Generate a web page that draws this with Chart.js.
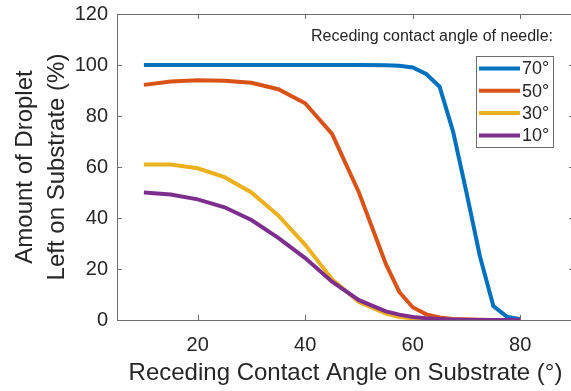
<!DOCTYPE html>
<html>
<head>
<meta charset="utf-8">
<script src="https://cdn.jsdelivr.net/npm/chart.js@4.4.0/dist/chart.umd.min.js"></script>
<style>
  html, body { margin: 0; padding: 0; background: #fff; overflow: hidden; }
  #wrap { width: 576px; height: 391px; }
</style>
</head>
<body>
<div id="wrap"><canvas id="chart" width="576" height="391"></canvas></div>
<script>
// receding contact angle on substrate (deg)
const angles = [10, 15, 20, 25, 30, 35, 40, 45, 50, 55, 57.5, 60, 62.5, 65, 67.5, 70, 72.5, 75, 77.5, 80];

// amount of droplet left on substrate (%), one array per needle angle
const needle70 = [100, 100, 100, 100, 100, 100, 100, 100, 100, 99.9, 99.7, 99, 96.5, 91.5, 74, 50, 25, 5.5, 1.3, 0.3];
const needle50 = [92.2, 93.5, 94, 93.8, 93, 90.5, 85, 73, 50, 22, 11, 5, 2.2, 1, 0.4, 0.2, 0.1, 0, 0, 0];
const needle30 = [61, 61, 59.5, 56, 50, 41, 29.5, 16, 7, 2.5, 1.2, 0.6, 0.3, 0.2, 0.1, 0.1, 0, 0, 0, 0];
const needle10 = [50, 49.2, 47.3, 44.2, 39.2, 32.2, 24.3, 15, 7.8, 3.4, 2.1, 1.2, 0.7, 0.4, 0.2, 0.1, 0, 0, 0, 0];

const seriesLabels = ["70°", "50°", "30°", "10°"];
const xTicks = [20, 40, 60, 80];
const yTicks = [0, 20, 40, 60, 80, 100, 120];

// matlab default colours
const colors = ["#0072BD", "#D95319", "#EDB120", "#7E2F8E"];
const textColor = "#262626";
const axisColor = "#6e6e6e";
const fontFamily = "'Liberation Sans', Arial, sans-serif";

Chart.defaults.font.family = fontFamily;
Chart.defaults.color = textColor;

function toPoints(values) {
  return angles.map((a, i) => ({ x: a, y: values[i] }));
}

// box around plot area with inward ticks, like matlab "box on"
const boxPlugin = {
  id: "matlabBox",
  beforeDatasetsDraw(chart) {
    const { ctx, chartArea: a, scales } = chart;
    ctx.save();
    ctx.strokeStyle = axisColor;
    ctx.lineWidth = 1;
    ctx.strokeRect(a.left + 0.5, a.top + 0.5, a.right - a.left, a.bottom - a.top);
    ctx.beginPath();
    xTicks.forEach((v) => {
      const px = Math.round(scales.x.getPixelForValue(v)) + 0.5;
      ctx.moveTo(px, a.bottom);
      ctx.lineTo(px, a.bottom - 5);
      ctx.moveTo(px, a.top);
      ctx.lineTo(px, a.top + 5);
    });
    yTicks.forEach((v) => {
      const py = Math.round(scales.y.getPixelForValue(v)) + 0.5;
      ctx.moveTo(a.left, py);
      ctx.lineTo(a.left + 5, py);
      ctx.moveTo(a.right, py);
      ctx.lineTo(a.right - 5, py);
    });
    ctx.stroke();
    ctx.restore();
  },
};

// legend drawn inside the plot with its own title and frame
const legendPlugin = {
  id: "needleLegend",
  afterDraw(chart) {
    const ctx = chart.ctx;
    ctx.save();
    ctx.fillStyle = textColor;
    ctx.font = "16px " + fontFamily;
    ctx.textAlign = "center";
    ctx.textBaseline = "middle";
    ctx.fillText("Receding contact angle of needle:", 432, 37);

    ctx.fillStyle = "#fff";
    ctx.fillRect(476, 56, 77, 91);
    ctx.strokeStyle = axisColor;
    ctx.lineWidth = 1;
    ctx.strokeRect(476.5, 56.5, 77, 91);

    chart.data.datasets.forEach((ds, i) => {
      const y = 68.5 + i * 22.3;
      ctx.strokeStyle = ds.borderColor;
      ctx.lineWidth = 4;
      ctx.beginPath();
      ctx.moveTo(479, y);
      ctx.lineTo(520, y);
      ctx.stroke();
      ctx.fillStyle = textColor;
      ctx.font = "18px " + fontFamily;
      ctx.textAlign = "left";
      ctx.fillText(ds.label, 522, y + 1);
    });
    ctx.restore();
  },
};

const allValues = [needle70, needle50, needle30, needle10];

new Chart(document.getElementById("chart"), {
  type: "line",
  data: {
    datasets: allValues.map((vals, i) => ({
      label: seriesLabels[i],
      data: toPoints(vals),
      borderColor: colors[i],
      backgroundColor: colors[i],
      borderWidth: 4,
      pointRadius: 0,
      tension: 0,
      fill: false,
      // later series drawn on top, like matlab plot order
      order: allValues.length - i,
    })),
  },
  options: {
    responsive: false,
    animation: false,
    layout: { padding: { top: 14, right: 2, left: 0, bottom: 0 } },
    plugins: {
      legend: { display: false },
      tooltip: { enabled: false },
    },
    scales: {
      x: {
        type: "linear",
        min: 5,
        max: 90,
        grid: { display: false, drawTicks: false },
        border: { display: false },
        afterBuildTicks: (scale) => {
          scale.ticks = xTicks.map((v) => ({ value: v }));
        },
        afterFit: (scale) => {
          scale.height = 71;
          scale.paddingLeft = 0;
          scale.paddingRight = 0;
        },
        ticks: {
          font: { size: 20 },
          color: textColor,
          padding: 13,
          maxRotation: 0,
        },
        title: {
          display: true,
          text: "Receding Contact Angle on Substrate (°)",
          font: { size: 24 },
          color: textColor,
          padding: { top: 0, bottom: 3 },
        },
      },
      y: {
        min: 0,
        max: 120,
        grid: { display: false, drawTicks: false },
        border: { display: false },
        afterBuildTicks: (scale) => {
          scale.ticks = yTicks.map((v) => ({ value: v }));
        },
        afterFit: (scale) => {
          scale.width = 117;
          scale.paddingTop = 0;
          scale.paddingBottom = 0;
        },
        ticks: {
          font: { size: 20 },
          color: textColor,
          padding: 9,
        },
        title: {
          display: true,
          text: ["Amount of Droplet", "Left on Substrate (%)"],
          font: { size: 24, lineHeight: 1.33 },
          color: textColor,
          padding: { top: 9, bottom: 0 },
        },
      },
    },
  },
  plugins: [boxPlugin, legendPlugin],
});
</script>
</body>
</html>
